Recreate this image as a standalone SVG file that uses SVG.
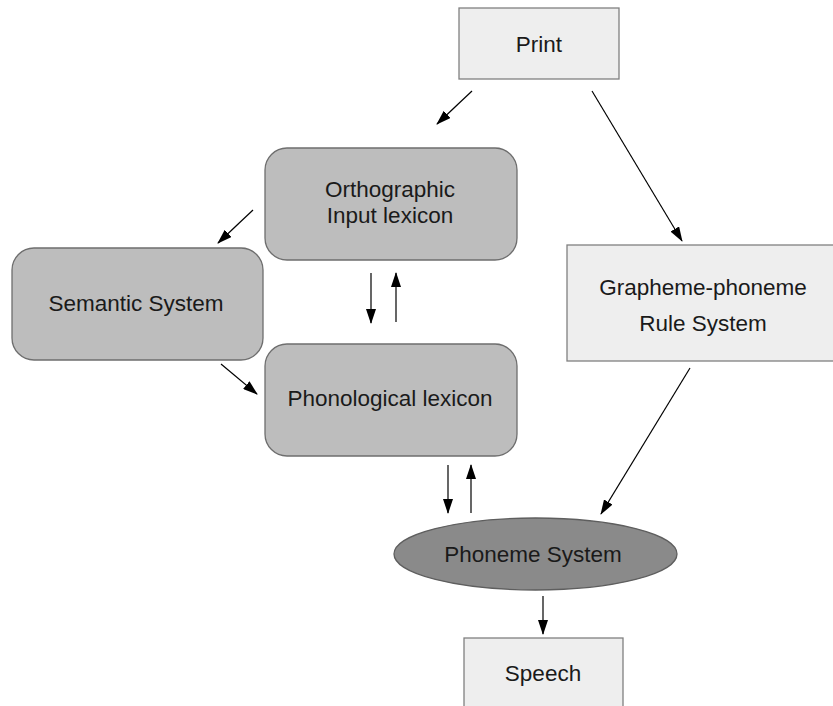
<svg xmlns="http://www.w3.org/2000/svg" width="833" height="706" viewBox="0 0 833 706">
<style>
.light{fill:#eeeeee;stroke:#808080;stroke-width:1.3}
.mid{fill:#bdbdbd;stroke:#6e6e6e;stroke-width:1.3}
.dark{fill:#8a8a8a;stroke:#5e5e5e;stroke-width:1.3}
text{font-family:"Liberation Sans",Arial,sans-serif;font-size:22.5px;fill:#1a1a1a;text-anchor:middle}
.c line{stroke:#000;stroke-width:1.2;marker-end:url(#ah)}
</style>
<defs>
<marker id="ah" markerWidth="15" markerHeight="10" refX="14" refY="5" orient="auto" markerUnits="userSpaceOnUse">
<path d="M0,0 L15,5 L0,10 z" fill="#000"/>
</marker>
</defs>
<rect width="833" height="706" fill="#ffffff"/>
<g id="print"><rect class="light" x="459" y="8" width="160" height="71"/><text x="539" y="52">Print</text></g>
<g id="ortho"><rect class="mid" x="265" y="148" width="252" height="112" rx="22"/><text x="390" y="197">Orthographic</text><text x="390" y="223">Input lexicon</text></g>
<g id="semantic"><rect class="mid" x="12" y="248" width="251" height="112" rx="22"/><text x="136" y="311">Semantic System</text></g>
<g id="phon"><rect class="mid" x="265" y="344" width="252" height="112" rx="22"/><text x="390" y="406">Phonological lexicon</text></g>
<g id="gp"><rect class="light" x="567" y="245" width="272" height="116"/><text x="703" y="295">Grapheme-phoneme</text><text x="703" y="331">Rule System</text></g>
<g id="phoneme"><ellipse class="dark" cx="535.5" cy="554" rx="141.5" ry="36"/><text x="533" y="562">Phoneme System</text></g>
<g id="speech"><rect class="light" x="464" y="638" width="159" height="72"/><text x="543" y="681">Speech</text></g>
<g class="c" id="connectors">
<line x1="472" y1="91" x2="437" y2="124"/>
<line x1="592" y1="91" x2="682" y2="241"/>
<line x1="253" y1="210" x2="218" y2="243"/>
<line x1="371" y1="273" x2="371" y2="323"/>
<line x1="396" y1="322" x2="396" y2="273"/>
<line x1="221" y1="364" x2="257" y2="394"/>
<line x1="448" y1="465" x2="448" y2="513"/>
<line x1="471" y1="513" x2="471" y2="465"/>
<line x1="690" y1="368" x2="601" y2="514"/>
<line x1="543" y1="596" x2="543" y2="634"/>
</g>
</svg>
